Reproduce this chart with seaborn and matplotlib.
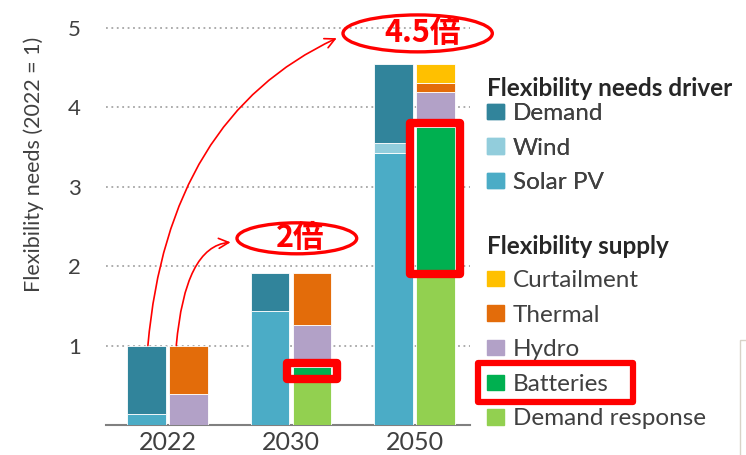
import matplotlib.pyplot as plt
from matplotlib.patches import Ellipse, Patch, Rectangle
import numpy as np
import pandas as pd
import seaborn as sns

years = ["2022", "2030", "2050"]
# flexibility needs driver, bottom -> top
solar_pv = [0.14, 1.43, 3.43]
wind = [0.00, 0.00, 0.12]
demand = [0.86, 0.48, 0.99]
# flexibility supply, bottom -> top
demand_response = [0.00, 0.63, 1.95]
batteries = [0.00, 0.10, 1.80]
hydro = [0.39, 0.53, 0.44]
thermal = [0.61, 0.65, 0.12]
curtailment = [0.00, 0.00, 0.23]
multiples = ["2倍", "4.5倍"]

colors = {
    "Demand": "#31849b",
    "Wind": "#92cddc",
    "Solar PV": "#4bacc6",
    "Curtailment": "#ffc000",
    "Thermal": "#e36c0a",
    "Hydro": "#b2a1c7",
    "Batteries": "#00b050",
    "Demand response": "#92d050",
}
red = "#ff0000"
txt = "#404040"

drivers = pd.DataFrame({"Solar PV": solar_pv, "Wind": wind, "Demand": demand}, index=years)
supply = pd.DataFrame({"Demand response": demand_response, "Batteries": batteries,
                       "Hydro": hydro, "Thermal": thermal, "Curtailment": curtailment}, index=years)

sns.set_theme(style="white")
plt.rcParams["font.family"] = ["Lato", "Noto Sans CJK JP", "DejaVu Sans"]

fig = plt.figure(figsize=(7.46, 4.55), dpi=100)
ax = fig.add_axes([0.142, 0.066, 0.488, 0.899])

x = np.arange(len(years))
w = 0.315
off = 0.17


def stack(df, xpos):
    bottom = np.zeros(len(df))
    for col in df.columns:
        vals = df[col].values
        keep = vals > 0
        ax.bar(xpos[keep], vals[keep], w, bottom=bottom[keep], color=colors[col],
               edgecolor="white", linewidth=0.6, zorder=3)
        bottom += vals
    return bottom


tot_d = stack(drivers, x - off)
tot_s = stack(supply, x + off)

ax.set_xlim(-0.5, 2.45)
ax.set_ylim(0, 5.15)
ax.set_yticks([1, 2, 3, 4, 5])
ax.set_xticks(x)
ax.set_xticklabels(years)
ax.yaxis.grid(True, linestyle=(0, (1, 2)), color="#a6a6a6", linewidth=1.3)
ax.set_axisbelow(True)
for s in ["left", "right", "top"]:
    ax.spines[s].set_visible(False)
ax.spines["bottom"].set_color("#808080")
ax.spines["bottom"].set_linewidth(1.5)
ax.tick_params(axis="y", length=0, pad=18, labelsize=16, labelcolor=txt)
ax.tick_params(axis="x", length=0, pad=4, labelsize=18, labelcolor=txt)
ax.set_ylabel("Flexibility needs (2022 = 1)", fontsize=15.5, color=txt)
ax.yaxis.set_label_coords(-0.17, 0.636)

# legends: headings as plain text, entries as frameless legends
fs = 17.5
lx = 487 / 746
fig.text(lx, 1 - 88 / 455, "Flexibility needs driver", fontsize=17.5, fontweight="bold",
         color="#262626", ha="left", va="center")
fig.text(lx, 1 - 247 / 455, "Flexibility supply", fontsize=17.5, fontweight="bold",
         color="#262626", ha="left", va="center")

leg_kw = dict(loc="upper left", frameon=False, fontsize=fs, borderpad=0, borderaxespad=0,
              handlelength=0.7, handleheight=0.6, handletextpad=0.35, labelspacing=0.56,
              labelcolor=txt)
drv_names = ["Demand", "Wind", "Solar PV"]
leg1 = fig.legend([Patch(color=colors[c]) for c in drv_names], drv_names,
                  bbox_to_anchor=(lx, 1 - 103 / 455), **leg_kw)
sup_names = ["Curtailment", "Thermal", "Hydro", "Batteries", "Demand response"]
leg2 = fig.legend([Patch(color=colors[c]) for c in sup_names], sup_names,
                  bbox_to_anchor=(lx, 1 - 270 / 455), **leg_kw)
fig.add_artist(leg1)

# growth callouts
ax.add_patch(Ellipse((1.047, 2.35), 0.97, 0.39, fill=False, ec=red, lw=2.4, clip_on=False, zorder=6))
ax.text(1.07, 2.35, multiples[0], color=red, fontsize=22, fontweight="bold", ha="center",
        va="center", family=["Noto Sans CJK JP"], zorder=6)
ax.add_patch(Ellipse((2.026, 4.93), 1.21, 0.465, fill=False, ec=red, lw=2.4, clip_on=False, zorder=6))
ax.text(2.065, 4.93, multiples[1], color=red, fontsize=22, fontweight="bold", ha="center",
        va="center", family=["Noto Sans CJK JP"], zorder=6)

ax.annotate("", xy=(0.51, 2.30), xytext=(x[0] + off - 0.10, tot_s[0]),
            arrowprops=dict(arrowstyle="->,head_length=0.6,head_width=0.3", color=red, lw=1.2,
                            connectionstyle="angle3,angleA=85,angleB=5", shrinkA=0, shrinkB=0),
            zorder=6, annotation_clip=False)
ax.annotate("", xy=(1.37, 4.87), xytext=(x[0] - off + 0.01, tot_d[0]),
            arrowprops=dict(arrowstyle="->,head_length=0.6,head_width=0.3", color=red, lw=1.2,
                            connectionstyle="angle3,angleA=85,angleB=25", shrinkA=0, shrinkB=0),
            zorder=6, annotation_clip=False)

# battery highlights
b_bottom = np.array(demand_response)
for i in [1, 2]:
    px, py = 0.045, 0.05
    ax.add_patch(Rectangle((x[i] + off - w / 2 - px, b_bottom[i] - py), w + 2 * px,
                           batteries[i] + 2 * py, fill=False, ec=red, lw=6,
                           joinstyle="round", clip_on=False, zorder=5))

fig.canvas.draw()
bb = leg2.get_texts()[3].get_window_extent(fig.canvas.get_renderer())
inv = fig.transFigure.inverted()
cy = (bb.y0 + bb.y1) / 2
(fx0, fy0), (fx1, fy1) = inv.transform([(bb.x0 - 35, cy - 18), (bb.x1 + 25, cy + 21)])
fig.add_artist(Rectangle((fx0, fy0), fx1 - fx0, fy1 - fy0, fill=False, ec=red, lw=4.5,
                         joinstyle="round", transform=fig.transFigure))
fig.add_artist(Rectangle((740 / 746, -0.01), 0.05, 120 / 455, fill=False, ec="#d8d3c8", lw=1,
                         transform=fig.transFigure))

fig.savefig("out.png", dpi=100)
